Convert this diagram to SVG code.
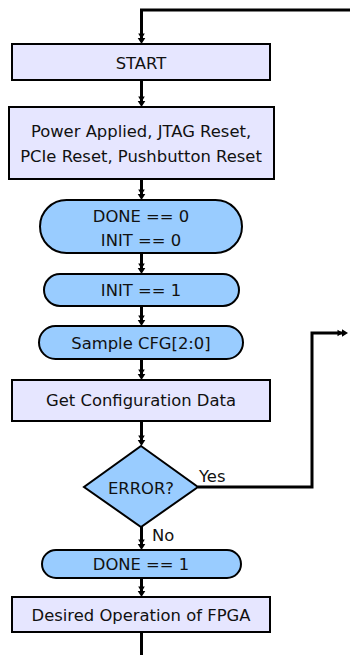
<svg xmlns="http://www.w3.org/2000/svg" width="350" height="655" viewBox="0 0 350 655">
  <style>
    .box { fill: #E6E6FF; stroke: #000; stroke-width: 2; }
    .pill { fill: #99CCFF; stroke: #000; stroke-width: 2; }
    .lbl { font-family: "DejaVu Sans", Verdana, sans-serif; font-size: 16.4px; fill: #111; text-anchor: middle; }
    .side { font-family: "DejaVu Sans", Verdana, sans-serif; font-size: 16.4px; fill: #111; }
    .wire { fill: none; stroke: #000; stroke-width: 3; }
  </style>
  <defs>
    <!-- double-barbed arrowhead, tip 6px past the line end -->
    <marker id="arrow" markerUnits="userSpaceOnUse" viewBox="-6 -5 14 10" markerWidth="14" markerHeight="10" refX="0" refY="0" orient="auto">
      <path d="M6,0 L0,-3.8 L0,3.8 Z M1,0 L-4.5,-3.3 L-4.5,3.3 Z" fill="#000"/>
    </marker>
  </defs>

  <rect width="350" height="655" fill="#fff"/>

  <g id="connectors">
    <path class="wire" d="M350,10 H141.5 V38" marker-end="url(#arrow)"/>
    <path class="wire" d="M141.5,80 V101" marker-end="url(#arrow)"/>
    <path class="wire" d="M141.5,179 V194" marker-end="url(#arrow)"/>
    <path class="wire" d="M141.5,253 V268" marker-end="url(#arrow)"/>
    <path class="wire" d="M141.5,306 V320" marker-end="url(#arrow)"/>
    <path class="wire" d="M141.5,359 V374" marker-end="url(#arrow)"/>
    <path class="wire" d="M141.5,421 V440" marker-end="url(#arrow)"/>
    <path class="wire" d="M141.5,527 V544" marker-end="url(#arrow)"/>
    <path class="wire" d="M141.5,578 V591" marker-end="url(#arrow)"/>
    <path class="wire" d="M141.5,632 V655"/>
    <path class="wire" d="M198,487 H312 V333 H342" marker-end="url(#arrow)"/>
    <text class="side" x="199" y="482">Yes</text>
    <text class="side" x="152" y="541">No</text>
  </g>

  <g id="start">
    <rect class="box" x="12" y="44" width="258" height="36"/>
    <text class="lbl" x="141" y="69">START</text>
  </g>

  <g id="reset">
    <rect class="box" x="9" y="107" width="265" height="72"/>
    <text class="lbl" x="141" y="137">Power Applied, JTAG Reset,</text>
    <text class="lbl" x="141" y="162">PCIe Reset, Pushbutton Reset</text>
  </g>

  <g id="done0">
    <rect class="pill" x="40" y="200" width="202" height="53" rx="26.5"/>
    <text class="lbl" x="141" y="222">DONE == 0</text>
    <text class="lbl" x="141" y="246">INIT == 0</text>
  </g>

  <g id="init1">
    <rect class="pill" x="44" y="274" width="195" height="32" rx="16"/>
    <text class="lbl" x="141" y="296">INIT == 1</text>
  </g>

  <g id="sample">
    <rect class="pill" x="39" y="326" width="204" height="33" rx="16.5"/>
    <text class="lbl" x="141" y="349">Sample CFG[2:0]</text>
  </g>

  <g id="getdata">
    <rect class="box" x="12" y="380" width="258" height="41"/>
    <text class="lbl" x="141" y="406">Get Configuration Data</text>
  </g>

  <g id="error">
    <polygon class="pill" points="141,446 198,487 141,527 84,487"/>
    <text class="lbl" x="141" y="494">ERROR?</text>
  </g>

  <g id="done1">
    <rect class="pill" x="42" y="550" width="199" height="28" rx="14"/>
    <text class="lbl" x="141" y="570">DONE == 1</text>
  </g>

  <g id="operate">
    <rect class="box" x="12" y="597" width="258" height="35"/>
    <text class="lbl" x="141" y="621">Desired Operation of FPGA</text>
  </g>
</svg>
